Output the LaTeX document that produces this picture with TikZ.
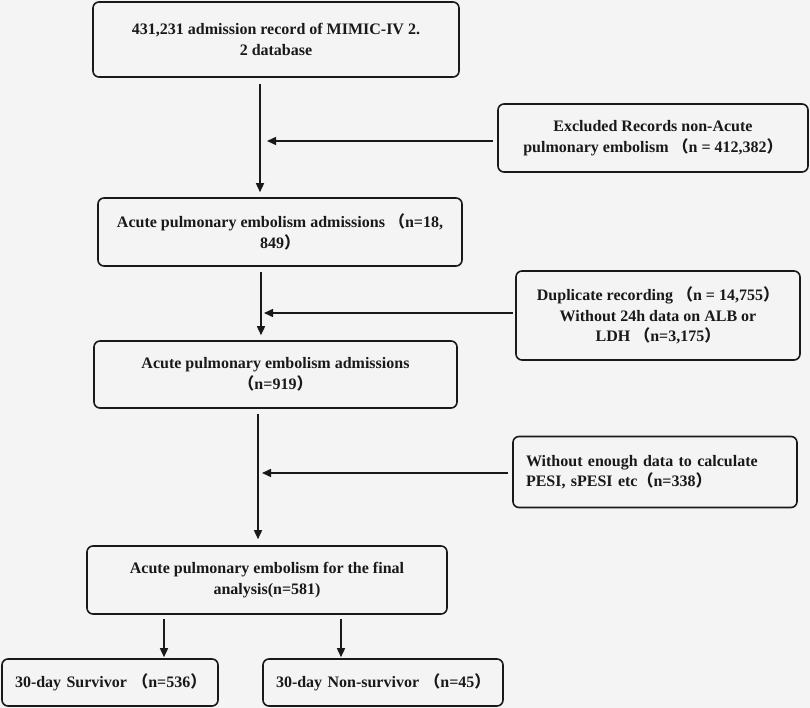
\documentclass[tikz,border=0pt]{standalone}
\usepackage{fontspec}
\setmainfont{Liberation Serif}
\newfontfamily\cjk{Noto Sans CJK SC}
\usetikzlibrary{arrows.meta}
\definecolor{paperGray}{RGB}{244, 244, 244}
\definecolor{inkBlack}{RGB}{25, 25, 25}
\newcommand{\fwl}{{\cjk （}}
\newcommand{\fwr}{{\cjk ）}}

\begin{document}
\begin{tikzpicture}[x=1pt,y=-1pt,
    flowbox/.style={draw=inkBlack,line width=1.6pt,rounded corners=6pt,align=center,
      font=\bfseries\fontsize{16}{20.5}\selectfont,text=inkBlack,inner sep=0pt},
    leftbox/.style={flowbox,align=left,inner xsep=13pt},
    arr/.style={draw=inkBlack,line width=1.5pt,-{Triangle[length=9pt,width=8pt]}}]
      % Background and page size
      \fill[paperGray] (0,0) rectangle (810,708);
      \useasboundingbox (0,0) rectangle (810,708);

      % Main boxes
      \node[flowbox,minimum width=366pt,minimum height=75pt] (records) at (276,39.5) {
        431,231 admission record of MIMIC-IV 2.\\2 database
      };
      \node[flowbox,minimum width=364pt,minimum height=68pt] (apeAll) at (280,232) {
        Acute pulmonary embolism admissions \fwl n=18,\\849\fwr
      };
      \node[flowbox,minimum width=363pt,minimum height=67pt] (apeKept) at (275.5,374.5) {
        Acute pulmonary embolism admissions\\\fwl n=919\fwr
      };
      \node[flowbox,minimum width=360pt,minimum height=68pt] (apeFinal) at (267,580) {
        Acute pulmonary embolism for the final\\analysis(n=581)
      };

      % Exclusion boxes
      \node[flowbox,minimum width=310pt,minimum height=68pt] (exclNonApe) at (653,138) {
        Excluded Records non-Acute\\pulmonary embolism \fwl n = 412,382\fwr
      };
      \node[flowbox,minimum width=284pt,minimum height=89pt] (exclDup) at (658,315.5) {
        Duplicate recording \fwl n = 14,755\fwr\\Without 24h data on ALB or\\LDH \fwl n=3,175\fwr
      };
      \node[leftbox,text width=258pt,minimum height=71pt] (exclPesi) at (655,472) {
        Without enough data to calculate\\PESI, sPESI etc\fwl n=338\fwr
      };

      % Outcome boxes
      \node[leftbox,text width=190pt,minimum height=47pt] (survivor) at (110,682.5) {
        \mbox{30-day Survivor \fwl n=536\fwr}
      };
      \node[leftbox,text width=214pt,minimum height=47pt] (nonSurvivor) at (383,682.5) {
        \mbox{30-day Non-survivor \fwl n=45\fwr}
      };

      % Junctions on the main line
      \coordinate (cut1) at (260,141);
      \coordinate (cut2) at (261,313);
      \coordinate (cut3) at (258,473);

      % Arrows
      \draw[arr,shorten <=6pt,shorten >=5pt] ([xshift=-16pt]records.south) -- ([xshift=-20pt]apeAll.north);
      \draw[arr,shorten <=5pt,shorten >=5pt] ([xshift=-19pt]apeAll.south) -- ([xshift=-14.5pt]apeKept.north);
      \draw[arr,shorten <=5pt,shorten >=6pt] ([xshift=-17.5pt]apeKept.south) -- ([xshift=-9pt]apeFinal.north);
      \draw[arr,shorten <=4pt,shorten >=1pt] ([xshift=-103pt]apeFinal.south) -- ([xshift=54pt]survivor.north);
      \draw[arr,shorten <=4pt,shorten >=1pt] ([xshift=74pt]apeFinal.south) -- ([xshift=-42pt]nonSurvivor.north);

      \draw[arr,shorten <=4pt,shorten >=7pt] (exclNonApe.west |- cut1) -- (cut1);
      \draw[arr,shorten <=2pt,shorten >=3pt] (exclDup.west |- cut2) -- (cut2);
      \draw[arr,shorten <=4pt,shorten >=4pt] (exclPesi.west |- cut3) -- (cut3);
    \end{tikzpicture}
\end{document}
